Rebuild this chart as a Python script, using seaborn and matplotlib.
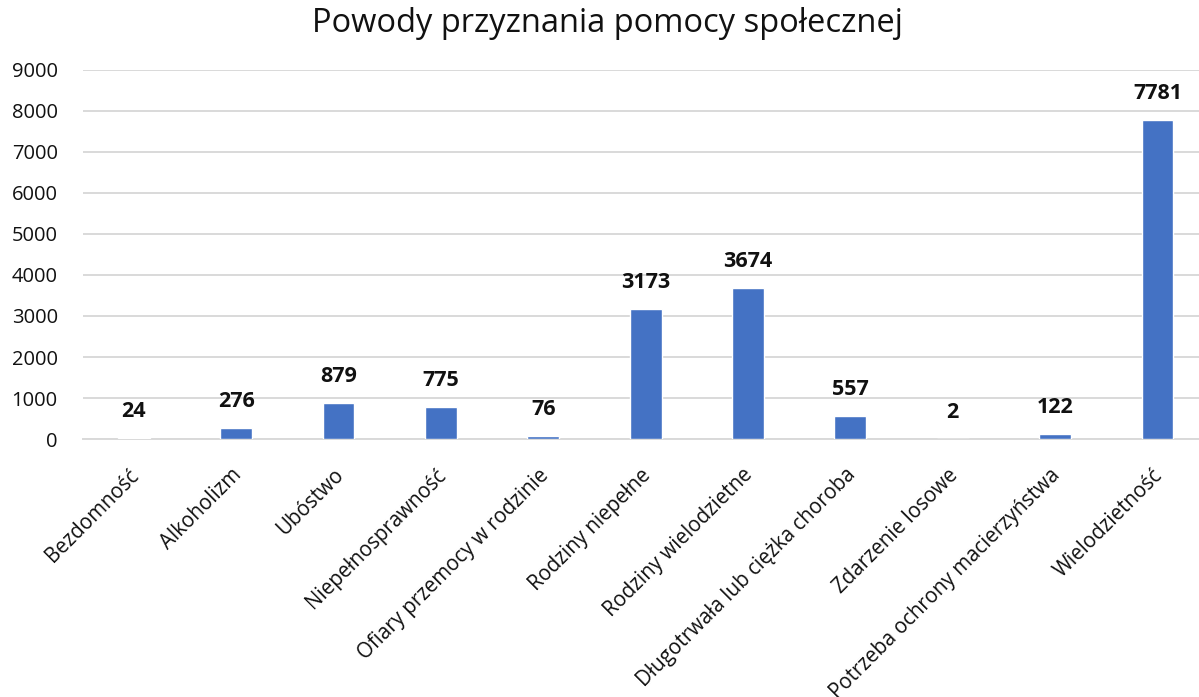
import matplotlib
matplotlib.use("Agg")
import matplotlib.pyplot as plt
import matplotlib.transforms as mtransforms
import pandas as pd
import seaborn as sns

CATEGORIES = [
    "Bezdomność",
    "Alkoholizm",
    "Ubóstwo",
    "Niepełnosprawność",
    "Ofiary przemocy w rodzinie",
    "Rodziny niepełne",
    "Rodziny wielodzietne",
    "Długotrwała lub ciężka choroba",
    "Zdarzenie losowe",
    "Potrzeba ochrony macierzyństwa",
    "Wielodzietność",
]
VALUES = [24, 276, 879, 775, 76, 3173, 3674, 557, 2, 122, 7781]
Y_TICKS = [0, 1000, 2000, 3000, 4000, 5000, 6000, 7000, 8000, 9000]
TITLE = "Powody przyznania pomocy społecznej"

BAR_COLOR = "#4472C4"
GRID_COLOR = "#d9d9d9"

sns.set_theme(style="white")
plt.rcParams["font.family"] = ["Open Sans", "DejaVu Sans"]

df = pd.DataFrame({"reason": CATEGORIES, "count": VALUES})

fig = plt.figure(figsize=(11.99, 6.97), dpi=100)
ax = fig.add_axes([0.069, 0.370, 0.939, 0.530])

sns.barplot(data=df, x="reason", y="count", color=BAR_COLOR, width=0.31,
            saturation=1, ax=ax, zorder=3)

ax.set_ylim(0, 9000)
ax.set_xlim(-0.5, len(CATEGORIES) - 0.5)
ax.set_yticks(Y_TICKS)
ax.yaxis.grid(True, color=GRID_COLOR, linewidth=1.4, zorder=0)
ax.set_axisbelow(True)
ax.set_xlabel("")
ax.set_ylabel("")
for side in ["left", "right", "top"]:
    ax.spines[side].set_visible(False)
ax.spines["bottom"].set_color(GRID_COLOR)
ax.spines["bottom"].set_linewidth(1.4)
ax.tick_params(axis="y", length=0, labelsize=14.5, pad=18, colors="#111111")
ax.tick_params(axis="x", length=0, labelsize=14.8, pad=0, colors="#111111")

# rotated category labels, end of text just right of the bar centre
shift = mtransforms.ScaledTranslation(2 / 100, -33 / 100, fig.dpi_scale_trans)
for lbl in ax.get_xticklabels():
    lbl.set_rotation(45)
    lbl.set_ha("right")
    lbl.set_va("center")
    lbl.set_rotation_mode("anchor")
    lbl.set_transform(lbl.get_transform() + shift)

for i, v in enumerate(VALUES):
    ax.annotate(f"{v}", (i, v), xytext=(0, 19), textcoords="offset points",
                ha="center", va="center", fontsize=15.5, fontweight="bold",
                color="#111111")

fig.suptitle(TITLE, fontsize=23.5, y=0.99, x=0.507, color="#111111")

fig.savefig("out.png", dpi=100, facecolor="white")
